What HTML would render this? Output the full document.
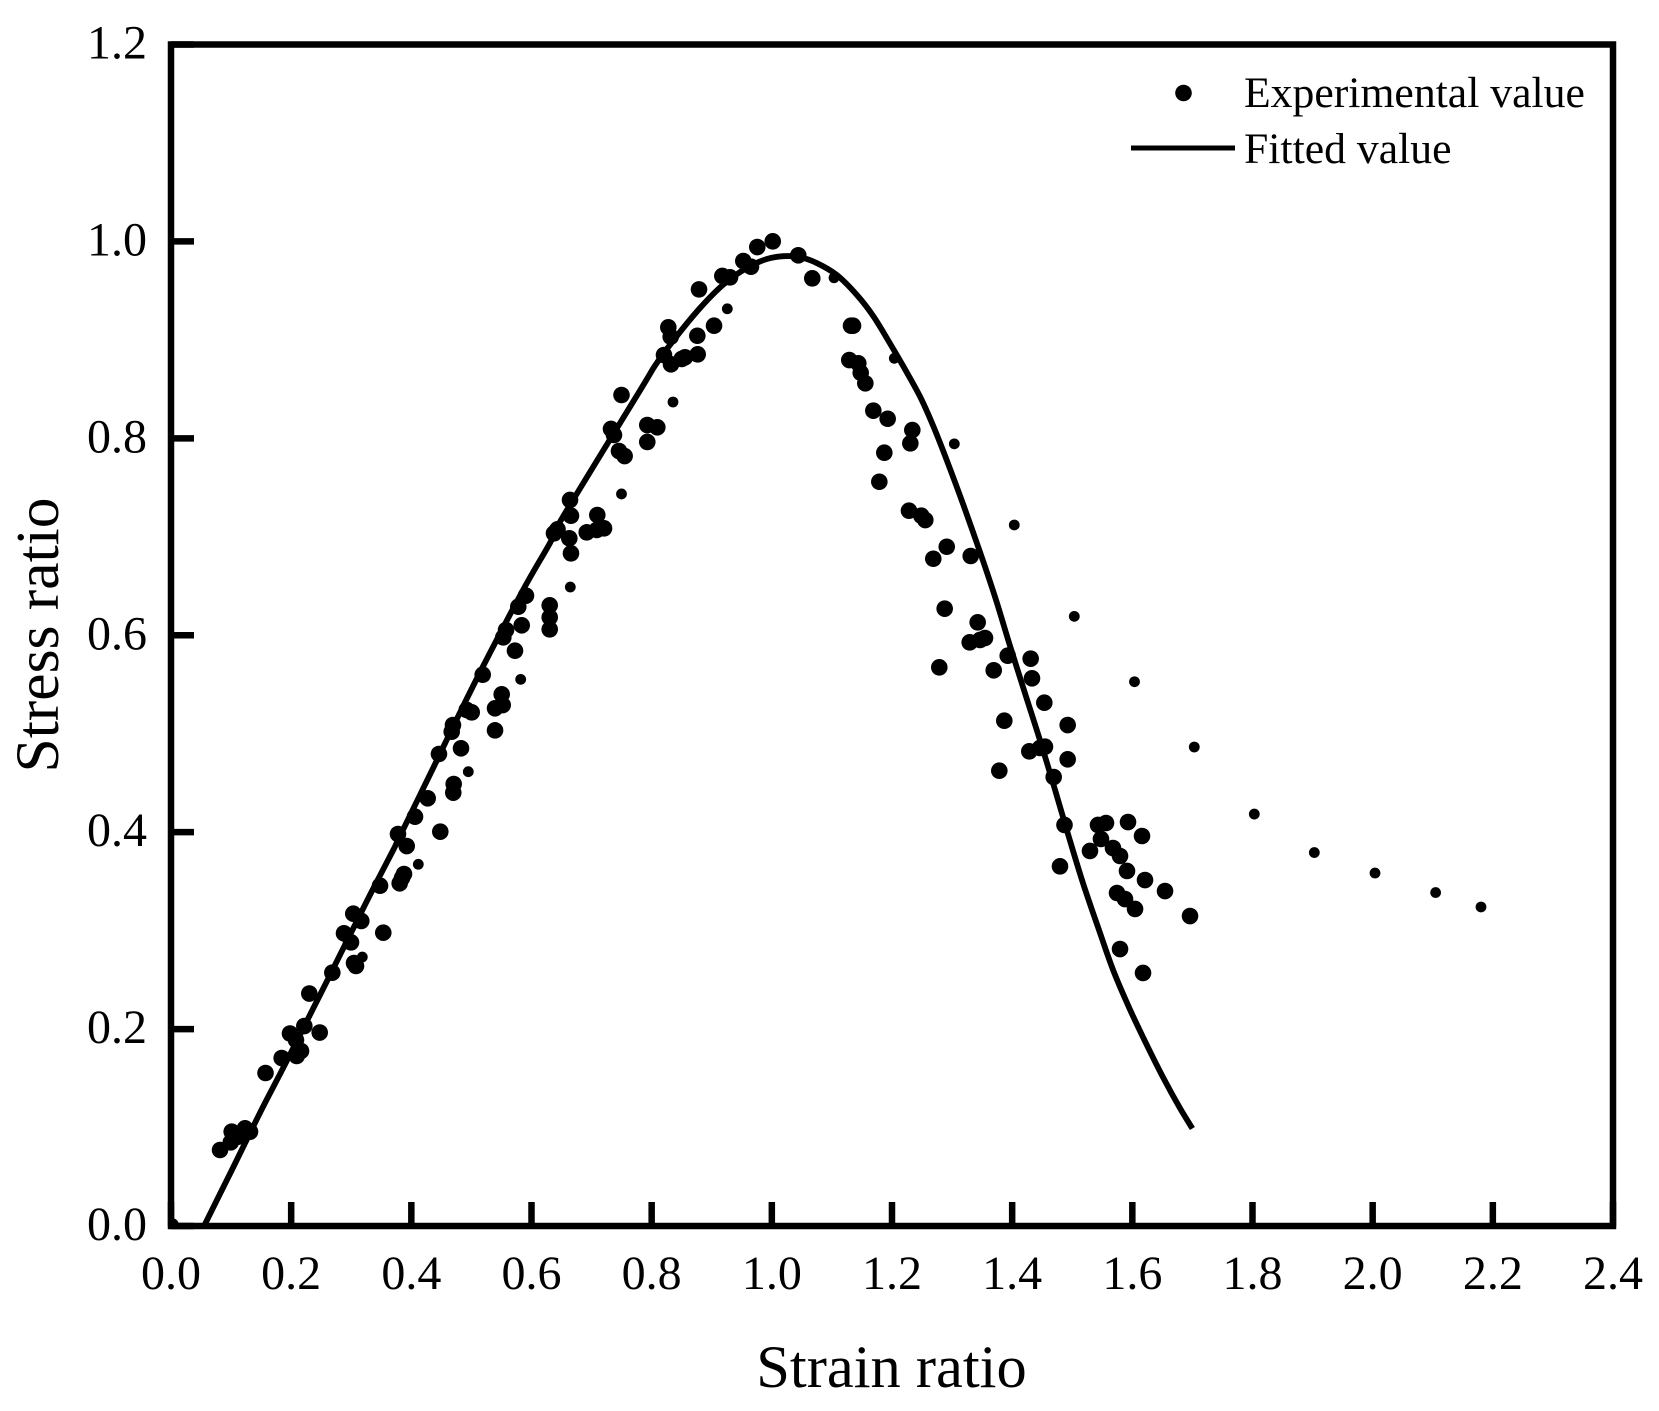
<!DOCTYPE html>
<html lang="en">
<head>
<meta charset="utf-8">
<title>Stress ratio vs strain ratio</title>
<style>
html,body{margin:0;padding:0;background:#fff;width:1659px;height:1411px;overflow:hidden}
svg{display:block}
text{font-family:"Liberation Serif",serif;fill:#000}
</style>
</head>
<body>
<svg id="chart" xmlns="http://www.w3.org/2000/svg" width="1659" height="1411" viewBox="0 0 1659 1411">
  <defs><clipPath id="plot-clip"><rect x="171" y="44.5" width="1442" height="1181.5"/></clipPath></defs>
  <rect x="0" y="0" width="1659" height="1411" fill="#fff"/>
  <g id="series" clip-path="url(#plot-clip)"></g>
  <g id="axes"></g>
  <rect x="171" y="44.5" width="1442" height="1181.5" fill="none" stroke="#000" stroke-width="6.5"/>
  <text x="891.5" y="1387" font-size="60.5" text-anchor="middle">Strain ratio</text>
  <text transform="translate(58,635) rotate(-90)" font-size="61.5" text-anchor="middle">Stress ratio</text>
  <g>
    <circle cx="1183.5" cy="93" r="8.3" fill="#000"/>
    <text x="1244" y="107" font-size="43.7">Experimental value</text>
    <line x1="1131" y1="148" x2="1235" y2="148" stroke="#000" stroke-width="5"/>
    <text x="1244" y="163" font-size="43.7">Fitted value</text>
  </g>
</svg>
<script>
var xTickValues = [0, 0.2, 0.4, 0.6, 0.8, 1.0, 1.2, 1.4, 1.6, 1.8, 2.0, 2.2, 2.4];
var xTickLabels = ["0.0", "0.2", "0.4", "0.6", "0.8", "1.0", "1.2", "1.4", "1.6", "1.8", "2.0", "2.2", "2.4"];
var yTickValues = [0, 0.2, 0.4, 0.6, 0.8, 1.0, 1.2];
var yTickLabels = ["0.0", "0.2", "0.4", "0.6", "0.8", "1.0", "1.2"];

var largeStrain = [0, 0.0816, 0.101, 0.1232, 0.1315, 0.1115, 0.0995, 0.1573, 0.1842, 0.198, 0.2092, 0.2164, 0.208, 0.2219, 0.2475, 0.2302, 0.2685, 0.3079, 0.3046, 0.2879, 0.2996, 0.3533, 0.3034, 0.3167, 0.3479, 0.3806, 0.3878, 0.3845, 0.3923, 0.3778, 0.4482, 0.4061, 0.4272, 0.4705, 0.4698, 0.446, 0.4827, 0.4672, 0.4693, 0.5393, 0.5393, 0.5521, 0.5504, 0.5005, 0.4922, 0.5188, 0.5531, 0.5576, 0.5725, 0.5837, 0.578, 0.5908, 0.6303, 0.6303, 0.6303, 0.6657, 0.6629, 0.6374, 0.6433, 0.6657, 0.6641, 0.7095, 0.6919, 0.7207, 0.7085, 0.7323, 0.7373, 0.7456, 0.7498, 0.755, 0.7927, 0.7927, 0.8094, 0.8205, 0.8322, 0.8277, 0.8317, 0.85, 0.8555, 0.8766, 0.876, 0.9038, 0.8788, 0.9176, 0.9304, 0.9525, 0.9653, 0.9758, 1.0015, 1.044, 1.0673, 1.1318, 1.1351, 1.1289, 1.1439, 1.1479, 1.1556, 1.1689, 1.1928, 1.2338, 1.2305, 1.1872, 1.1789, 1.2283, 1.2488, 1.2554, 1.2911, 1.2687, 1.331, 1.2877, 1.3426, 1.3548, 1.3465, 1.3293, 1.2787, 1.3693, 1.3926, 1.4308, 1.433, 1.4535, 1.3869, 1.4924, 1.3786, 1.4285, 1.4546, 1.4463, 1.4924, 1.4691, 1.4871, 1.4796, 1.5429, 1.5562, 1.5928, 1.6161, 1.5478, 1.5295, 1.5678, 1.5795, 1.5911, 1.6211, 1.6544, 1.5745, 1.5878, 1.6045, 1.696, 1.5795, 1.6178];
var largeStress = [0, 0.0772, 0.0958, 0.0992, 0.0958, 0.0907, 0.085, 0.1554, 0.1706, 0.1955, 0.1727, 0.1777, 0.1889, 0.2031, 0.1965, 0.2361, 0.2573, 0.2641, 0.2671, 0.2973, 0.2881, 0.2979, 0.3172, 0.3098, 0.3456, 0.3481, 0.3575, 0.3534, 0.3859, 0.3981, 0.4005, 0.4157, 0.4344, 0.4489, 0.4401, 0.4794, 0.4852, 0.502, 0.5088, 0.5034, 0.5258, 0.5291, 0.54, 0.5217, 0.5241, 0.5599, 0.5979, 0.6053, 0.5843, 0.6101, 0.629, 0.6402, 0.606, 0.6182, 0.6304, 0.6832, 0.6985, 0.7035, 0.7076, 0.7214, 0.7374, 0.7221, 0.7045, 0.7086, 0.7069, 0.8095, 0.8034, 0.7871, 0.844, 0.782, 0.7963, 0.8135, 0.8112, 0.8846, 0.8752, 0.9128, 0.9032, 0.8806, 0.8823, 0.8853, 0.9042, 0.9144, 0.9513, 0.9649, 0.9635, 0.9801, 0.9743, 0.9943, 1.0001, 0.9859, 0.9625, 0.9144, 0.9144, 0.8795, 0.8762, 0.8666, 0.8559, 0.8281, 0.8199, 0.8084, 0.7949, 0.7854, 0.7559, 0.7265, 0.7214, 0.717, 0.6899, 0.6777, 0.6805, 0.627, 0.6131, 0.5972, 0.5952, 0.5928, 0.5674, 0.5644, 0.5792, 0.5762, 0.5563, 0.5315, 0.5132, 0.5088, 0.4624, 0.4821, 0.4868, 0.4855, 0.474, 0.456, 0.4073, 0.3653, 0.4073, 0.4093, 0.4103, 0.3961, 0.3931, 0.3809, 0.3839, 0.3758, 0.3606, 0.3514, 0.3402, 0.3382, 0.3321, 0.322, 0.3148, 0.2813, 0.257];

var smallStrain = [0.3184, 0.4116, 0.4948, 0.582, 0.6646, 0.7498, 0.8355, 0.9259, 1.1035, 1.2038, 1.3037, 1.4035, 1.5034, 1.6036, 1.7031, 1.803, 1.9029, 2.0039, 2.1048, 2.1803];
var smallStress = [0.2732, 0.3674, 0.4614, 0.5552, 0.649, 0.7435, 0.8369, 0.9316, 0.9631, 0.8813, 0.7944, 0.712, 0.6192, 0.5528, 0.4865, 0.4184, 0.3793, 0.3585, 0.3387, 0.324];

var fittedStrain = [0.055, 0.103, 0.14, 0.159, 0.193, 0.226, 0.259, 0.281, 0.317, 0.336, 0.37, 0.381, 0.437, 0.475, 0.519, 0.586, 0.631, 0.652, 0.781, 0.808, 0.842, 0.88, 0.919, 0.958, 0.991, 1.019, 1.047, 1.075, 1.108, 1.141, 1.169, 1.197, 1.219, 1.247, 1.269, 1.291, 1.319, 1.349, 1.373, 1.396, 1.424, 1.446, 1.468, 1.493, 1.518, 1.546, 1.568, 1.596, 1.624, 1.652, 1.679, 1.7];
var fittedStress = [0, 0.059, 0.105, 0.128, 0.168, 0.208, 0.248, 0.275, 0.319, 0.342, 0.382, 0.396, 0.466, 0.514, 0.568, 0.646, 0.694, 0.72, 0.849, 0.876, 0.904, 0.932, 0.956, 0.973, 0.982, 0.985, 0.984, 0.978, 0.966, 0.946, 0.924, 0.896, 0.873, 0.842, 0.812, 0.778, 0.732, 0.68, 0.636, 0.59, 0.536, 0.494, 0.45, 0.398, 0.348, 0.298, 0.26, 0.22, 0.184, 0.15, 0.12, 0.099];

var NS = 'http://www.w3.org/2000/svg';
function xScale(v) { return 171 + v * (1613 - 171) / 2.4; }
function yScale(v) { return 1226 - v * (1226 - 44.5) / 1.2; }

var seriesGroup = document.getElementById('series');
var axesGroup = document.getElementById('axes');

function svgEl(tag) { return document.createElementNS(NS, tag); }

function drawDots(xs, ys, radius) {
  for (var i = 0; i < xs.length; i++) {
    var dot = svgEl('circle');
    
    
    dot.setAttribute('cx', xScale(xs[i]).toFixed(2));
    dot.setAttribute('cy', yScale(ys[i]).toFixed(2));
    dot.setAttribute('r', radius);
    dot.setAttribute('fill', '#000');
    seriesGroup.appendChild(dot);
  }
}
drawDots(largeStrain, largeStress, 8.3);
drawDots(smallStrain, smallStress, 5.4);

function smoothPath(xs, ys) {
  var px = xs.map(xScale);
  var py = ys.map(yScale);
  var d = 'M' + px[0].toFixed(2) + ' ' + py[0].toFixed(2);
  for (var i = 0; i < px.length - 1; i++) {
    var a = Math.max(i - 1, 0);
    var b = Math.min(i + 2, px.length - 1);
    var c1x = px[i] + (px[i + 1] - px[a]) / 6;
    var c1y = py[i] + (py[i + 1] - py[a]) / 6;
    var c2x = px[i + 1] - (px[b] - px[i]) / 6;
    var c2y = py[i + 1] - (py[b] - py[i]) / 6;
    d += 'C' + c1x.toFixed(2) + ' ' + c1y.toFixed(2) + ' ' + c2x.toFixed(2) + ' ' + c2y.toFixed(2) + ' ' + px[i + 1].toFixed(2) + ' ' + py[i + 1].toFixed(2);
  }
  return d;
}

var fitted = svgEl('path');


fitted.setAttribute('d', smoothPath(fittedStrain, fittedStress));
fitted.setAttribute('fill', 'none');
fitted.setAttribute('stroke', '#000');
fitted.setAttribute('stroke-width', '5.8');
fitted.setAttribute('stroke-linejoin', 'round');
seriesGroup.appendChild(fitted);

xTickValues.forEach(function (v, i) {
  var x = xScale(v);
  var tick = svgEl('line');
  
  
  tick.setAttribute('x1', x);
  tick.setAttribute('x2', x);
  tick.setAttribute('y1', 1226);
  tick.setAttribute('y2', 1202);
  tick.setAttribute('stroke', '#000');
  tick.setAttribute('stroke-width', '6.5');
  axesGroup.appendChild(tick);
  var label = svgEl('text');
  
  
  label.setAttribute('x', x);
  label.setAttribute('y', 1289);
  label.setAttribute('font-size', '48');
  label.setAttribute('text-anchor', 'middle');
  label.textContent = xTickLabels[i];
  axesGroup.appendChild(label);
});

yTickValues.forEach(function (v, i) {
  var y = yScale(v);
  var tick = svgEl('line');
  
  
  tick.setAttribute('x1', 171);
  tick.setAttribute('x2', 194);
  tick.setAttribute('y1', y);
  tick.setAttribute('y2', y);
  tick.setAttribute('stroke', '#000');
  tick.setAttribute('stroke-width', '6.5');
  axesGroup.appendChild(tick);
  var label = svgEl('text');
  
  
  label.setAttribute('x', 147);
  label.setAttribute('y', y + 14);
  label.setAttribute('font-size', '48');
  label.setAttribute('text-anchor', 'end');
  label.textContent = yTickLabels[i];
  axesGroup.appendChild(label);
});
</script>
</body>
</html>
